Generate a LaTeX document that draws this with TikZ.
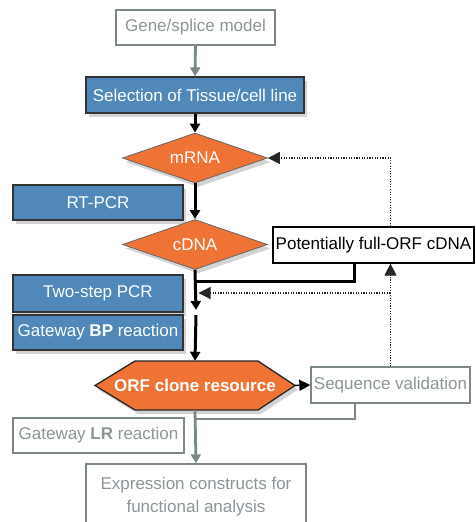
\documentclass[tikz,border=0pt]{standalone}
\usepackage{fontspec}
\setmainfont{Liberation Sans}
\usetikzlibrary{shapes.geometric,arrows.meta,shadows,calc}
\definecolor{stepblue}{HTML}{5088BA}
\definecolor{resorange}{HTML}{EE7334}
\definecolor{softgrey}{HTML}{8C9698}
\definecolor{linegrey}{HTML}{7B8789}

\begin{document}
\begin{tikzpicture}[x=1pt,y=-1pt,
  font=\fontsize{17}{23}\selectfont,
  castshadow/.style={drop shadow={shadow xshift=3pt,shadow yshift=-4pt,opacity=0.35}},
  bluebox/.style={rectangle,draw=black!80,line width=1.3pt,fill=stepblue,text=white,
    inner sep=0pt,castshadow},
  greybox/.style={rectangle,draw=linegrey,line width=1.3pt,fill=white,text=softgrey,inner sep=0pt},
  plainbox/.style={rectangle,draw=black,line width=1.2pt,fill=white,text=black,inner sep=0pt},
  decision/.style={diamond,aspect=2.9,fill=resorange,draw=black!60,line width=0.8pt,text=white,
    inner sep=0pt,minimum width=145pt,minimum height=50pt,castshadow},
  mainflow/.style={line width=3pt,black,-{Triangle[length=9pt,width=10pt]}},
  mainline/.style={line width=3pt,black},
  greyflow/.style={line width=2.8pt,linegrey,-{Triangle[length=9pt,width=10pt]}},
  greyline/.style={line width=2.8pt,linegrey},
  feedback/.style={line width=1.1pt,black!85,dash pattern=on 1.1pt off 1.5pt,
    -{Triangle[length=12pt,width=12pt]}}
]
\clip (0,0) rectangle (475,522);

% top of the pipeline
\node[greybox,minimum width=159pt,minimum height=35pt] (gene) at (195.5,27.5) {Gene/splice model};
\node[bluebox,minimum width=218pt,minimum height=36pt] (sel) at (195,95) {Selection of Tissue/cell line};

% left-hand step labels
\node[bluebox,minimum width=170pt,minimum height=35pt] (rt) at (98,202.5) {RT-PCR};
\node[bluebox,minimum width=170pt,minimum height=37pt] (two) at (98,293.5) {Two-step PCR};
\node[bluebox,minimum width=170pt,minimum height=35pt] (bp) at (98,332.5) {Gateway \textbf{BP} reaction};
\node[greybox,minimum width=171pt,minimum height=35pt] (lr) at (98.5,435.5) {Gateway \textbf{LR} reaction};

% junction points on the main line
\coordinate (j1) at (196,281);
\coordinate (j2) at (198.5,293);
\coordinate (gapend) at (196,310);
\coordinate (gapstart) at (196,315);
\coordinate (j3) at (196,419);

% decisions
\node[decision] (mrna) at (195,158) {mRNA};
\node[decision] (cdna) at (195,244.5) {cDNA};

% potentially full-length clone
\node[plainbox,minimum width=201pt,minimum height=36pt] (pot) at (373.5,245) {Potentially full-ORF cDNA};

% hexagonal resource shape
\fill[resorange,draw=black!85,line width=1.3pt,castshadow]
  (95,385.5) -- (135,361) -- (258,361) -- (295,385.5) -- (258,410) -- (135,410) -- cycle;
\node[minimum width=200pt,minimum height=49pt,inner sep=0pt,text=white,font=\fontsize{17}{23}\selectfont\bfseries]
  (orf) at (195,385.5) {ORF clone resource};

\node[greybox,minimum width=159pt,minimum height=36pt] (seq) at (390.5,385) {Sequence validation};
\node[greybox,minimum width=220pt,minimum height=66pt,align=center] (expr) at (196,497)
  {Expression constructs for\\functional analysis};

% connectors
\draw[greyflow] (gene.south) -- (sel.north);
\draw[mainflow] (sel.south) -- (mrna.north);
\draw[mainflow] (mrna.south) -- (cdna.north);
\draw[mainflow] (cdna.south) -- (gapend);
\draw[mainflow] (gapstart) -- (orf.north);
\draw[mainline] ([xshift=-19.5pt]pot.south) |- (j1);
\draw[feedback] (seq.north) -- (seq.north |- pot.south);
\draw[feedback] (seq.north |- j2) -- (j2);
\draw[feedback] (seq.north |- pot.north) |- (mrna.east);
\draw[line width=1.5pt,black,-{Triangle[length=11pt,width=11pt]}] (orf.east) -- (seq.west);
\draw[greyline] ([xshift=-35.5pt]seq.south) |- (j3);
\draw[greyflow] (orf.south) -- (expr.north);
\end{tikzpicture}
\end{document}
